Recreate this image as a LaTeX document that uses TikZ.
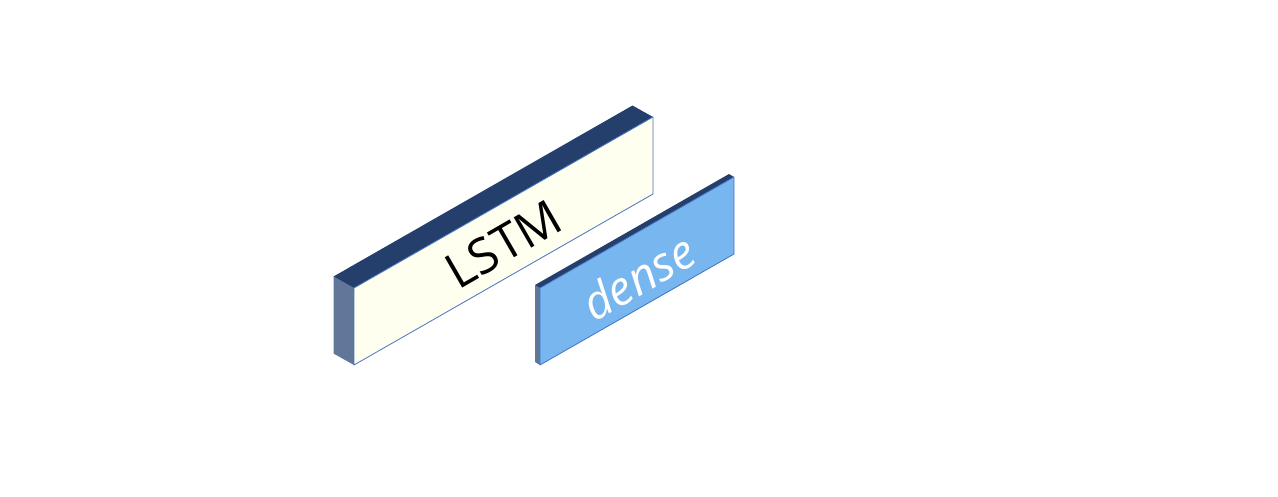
\documentclass[tikz,border=0pt]{standalone}
\usepackage{fontspec}
\newfontfamily\labelfont{Open Sans}
\usetikzlibrary{calc}
\definecolor{navy}{HTML}{243F6B}
\definecolor{sideblue}{HTML}{61779A}
\definecolor{ivory}{HTML}{FFFFEF}
\definecolor{denseblue}{HTML}{78B6EF}
\definecolor{edgeblue}{HTML}{4472C4}
\tikzset{
  topface/.style={fill=navy},
  sideface/.style={fill=sideblue},
  frontface/.style={draw=edgeblue, line width=0.8pt, line join=round},
  boxlabel/.style={rotate=30, inner sep=0pt, font=\labelfont\fontsize{#1}{#1}\selectfont},
}
\begin{document}
\begin{tikzpicture}[x=1pt,y=-1pt]
\useasboundingbox (0,0) rectangle (1278,496);
% LSTM block
\coordinate (la) at (354,365);
\coordinate (lb) at (354,288);
\coordinate (lc) at (653,117);
\coordinate (ld) at (653,194);
\coordinate (loff) at (-20.5,-11.5);
\fill[sideface] (la) -- (lb) -- ($(lb)+(loff)$) -- ($(la)+(loff)$) -- cycle;
\fill[topface] (lb) -- (lc) -- ($(lc)+(loff)$) -- ($(lb)+(loff)$) -- cycle;
\filldraw[frontface, fill=ivory] (la) -- (lb) -- (lc) -- (ld) -- cycle;
\node[boxlabel=49] (lstm) at ($(lb)!0.5!(ld)+(0,3)$) {LSTM};
% dense block
\coordinate (da) at (540,365);
\coordinate (db) at (540,288);
\coordinate (dc) at (734,177);
\coordinate (dd) at (734,254);
\coordinate (doff) at (-5,-3);
\fill[sideface] (da) -- (db) -- ($(db)+(doff)$) -- ($(da)+(doff)$) -- cycle;
\fill[topface] (db) -- (dc) -- ($(dc)+(doff)$) -- ($(db)+(doff)$) -- cycle;
\filldraw[frontface, fill=denseblue] (da) -- (db) -- (dc) -- (dd) -- cycle;
\node[boxlabel=47, text=white] (dense) at ($(db)!0.5!(dd)+(1,6)$) {\itshape dense};
\end{tikzpicture}
\end{document}
